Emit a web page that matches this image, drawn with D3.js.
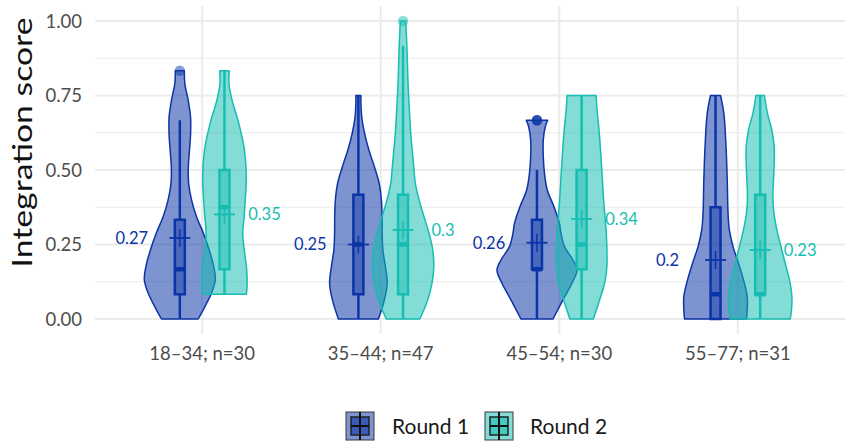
<!DOCTYPE html>
<html><head><meta charset="utf-8">
<script src="https://cdn.jsdelivr.net/npm/d3@7"></script>
<style>body{margin:0;background:#fff} svg{display:block} text{font-family:Lato,"Open Sans",sans-serif}</style>
</head><body><svg id="c" width="855" height="441"></svg>
<script>
const categories = ["18–34; n=30","35–44; n=47","45–54; n=30","55–77; n=31"];
const rounds = ["Round 1","Round 2"];
const yTicks = [0,0.25,0.5,0.75,1];
const yMinor = [0.125,0.375,0.625,0.875];
const colors = ["#0b34a6","#16bdb2"];

// violin density profiles: [score, density]
const densR1 = [
  [[0,1.83],[0.041,2.5],[0.087,3.17],[0.131,3.55],[0.175,3.4],[0.231,2.95],[0.287,2.37],[0.343,1.67],[0.4,1.17],[0.456,0.88],[0.511,0.85],[0.567,0.97],[0.624,1.08],[0.679,1.07],[0.735,0.83],[0.79,0.5],[0.833,0.45]],
  [[0,2.0],[0.064,2.6],[0.12,2.88],[0.176,2.7],[0.232,2.45],[0.288,2.38],[0.343,2.37],[0.4,2.3],[0.455,2.08],[0.511,1.6],[0.567,1.05],[0.623,0.62],[0.679,0.33],[0.731,0.25],[0.75,0.25]],
  [[0,1.6],[0.064,2.6],[0.12,3.5],[0.164,4.0],[0.198,3.6],[0.243,2.75],[0.288,2.4],[0.321,2.25],[0.377,1.7],[0.433,1.03],[0.489,0.75],[0.545,0.63],[0.6,0.63],[0.645,0.83],[0.667,1.07]],
  [[0,3.1],[0.03,3.17],[0.075,3.17],[0.131,2.8],[0.187,2.3],[0.243,1.75],[0.299,1.38],[0.355,1.25],[0.466,1.17],[0.578,1.05],[0.69,0.83],[0.75,0.5]]
];
const densR2 = [
  [[0.083,2.2],[0.12,2.27],[0.175,2.2],[0.231,1.98],[0.287,1.83],[0.343,1.97],[0.4,2.08],[0.456,2.17],[0.511,2.15],[0.567,2.0],[0.624,1.67],[0.679,1.25],[0.735,0.75],[0.791,0.45],[0.833,0.48]],
  [[0,1.67],[0.064,2.47],[0.12,2.9],[0.176,3.08],[0.232,2.97],[0.288,2.6],[0.343,2.1],[0.4,1.6],[0.455,1.23],[0.511,1.07],[0.567,0.92],[0.623,0.77],[0.679,0.67],[0.791,0.5],[0.903,0.4],[1.0,0.27]],
  [[0,1.17],[0.064,1.8],[0.12,2.3],[0.176,2.53],[0.232,2.53],[0.288,2.47],[0.4,2.2],[0.511,2.0],[0.623,1.77],[0.7,1.55],[0.75,1.45]],
  [[0,3.0],[0.03,3.13],[0.075,3.17],[0.131,2.93],[0.187,2.5],[0.243,2.08],[0.299,1.67],[0.355,1.37],[0.41,1.27],[0.466,1.33],[0.522,1.4],[0.578,1.4],[0.634,1.17],[0.69,0.73],[0.75,0.43]]
];
// box stats: [lower whisker, q1, median, q3, upper whisker]
const boxR1 = [[0,0.083,0.167,0.333,0.667],[0,0.083,0.25,0.417,0.75],[0,0.167,0.167,0.333,0.5],[0,0,0.083,0.375,0.75]];
const boxR2 = [[0.083,0.167,0.375,0.5,0.833],[0,0.083,0.25,0.417,0.917],[0,0.167,0.25,0.5,0.75],[0,0.083,0.083,0.417,0.75]];
const outR1 = [[0.833],[],[0.667,0.667,0.667],[]];
const outR2 = [[],[1.0],[],[]];
const meanR1 = [0.272,0.25,0.256,0.198];
const meanR2 = [0.351,0.299,0.336,0.232];

const dens = [densR1, densR2], boxes = [boxR1, boxR2], outs = [outR1, outR2], means = [meanR1, meanR2];

const svg = d3.select("#c");
const pLeft = 95, pRight = 845, pTop = 6, pBottom = 334;

const x = d3.scalePoint().domain(categories).range([pLeft, pRight]).padding(0.6);
const step = x.step();
const dodge = d3.scalePoint().domain(rounds).range([-step*0.125, step*0.125]);
const y = d3.scaleLinear().domain([0,1]).range([319, 21]);
const w = d3.scaleLinear().domain([0,1]).range([0, step*0.056]);

// grid
const g = svg.append("g");
g.selectAll(".ymin").data(yMinor).join("line")
  .attr("x1", pLeft).attr("x2", pRight).attr("y1", d=>y(d)).attr("y2", d=>y(d))
  .attr("stroke", "#ececec").attr("stroke-width", 1);
g.selectAll(".ymaj").data(yTicks).join("line")
  .attr("x1", pLeft).attr("x2", pRight).attr("y1", d=>y(d)).attr("y2", d=>y(d))
  .attr("stroke", "#ebebeb").attr("stroke-width", 2);
g.selectAll(".xmaj").data(categories).join("line")
  .attr("x1", d=>x(d)).attr("x2", d=>x(d)).attr("y1", pTop).attr("y2", pBottom)
  .attr("stroke", "#ebebeb").attr("stroke-width", 2);

// axes labels
svg.append("g").selectAll("text").data(yTicks).join("text")
  .attr("x", 82).attr("y", d=>y(d)).attr("dy","0.36em").attr("text-anchor","end")
  .attr("fill","#4d4d4d").attr("font-size",18.5).text(d3.format(".2f"));
svg.append("g").selectAll("text").data(categories).join("text")
  .attr("x", d=>x(d)).attr("y", 360).attr("text-anchor","middle")
  .attr("fill","#4d4d4d").attr("font-size",18.5).text(d=>d);
svg.append("text").attr("transform","translate(32,142.5) rotate(-90)")
  .attr("text-anchor","middle").attr("fill","#111").attr("font-size",27)
  .attr("textLength",250).attr("lengthAdjust","spacingAndGlyphs").text("Integration score");

const fmt = d3.format(".2~f");

rounds.forEach((r, ri) => {
  const col = colors[ri];
  categories.forEach((c, ci) => {
    const cx = x(c) + dodge(r);
    const prof = dens[ri][ci];
    const area = d3.area().curve(d3.curveCatmullRom.alpha(0.5))
      .y(d=>y(d[0])).x0(d=>cx - w(d[1])).x1(d=>cx + w(d[1]));
    svg.append("path").attr("d", area(prof))
      .attr("fill", col).attr("fill-opacity", 0.53)
      .attr("stroke", col).attr("stroke-width", 1.5).attr("stroke-linejoin","round");
  });
});

rounds.forEach((r, ri) => {
  const col = colors[ri];
  categories.forEach((c, ci) => {
    const cx = x(c) + dodge(r);
    const [lo, q1, md, q3, hi] = boxes[ri][ci];
    const bw = step*0.028;
    const gg = svg.append("g");
    gg.append("line").attr("x1",cx).attr("x2",cx).attr("y1",y(hi)).attr("y2",y(q3))
      .attr("stroke",col).attr("stroke-width",2.5);
    gg.append("line").attr("x1",cx).attr("x2",cx).attr("y1",y(q1)).attr("y2",y(lo))
      .attr("stroke",col).attr("stroke-width",2.5);
    gg.append("rect").attr("x",cx-bw).attr("width",bw*2).attr("y",y(q3)).attr("height",Math.max(0.01,y(q1)-y(q3)))
      .attr("fill",col).attr("fill-opacity",0.45).attr("stroke",col).attr("stroke-width",2.5);
    gg.append("line").attr("x1",cx-bw).attr("x2",cx+bw).attr("y1",y(md)).attr("y2",y(md))
      .attr("stroke",col).attr("stroke-width",4.5);
    gg.selectAll("circle").data(outs[ri][ci]).join("circle")
      .attr("cx",cx).attr("cy",d=>y(d)).attr("r",5.2)
      .attr("fill",col).attr("fill-opacity",0.5);
    const m = means[ri][ci];
    gg.append("line").attr("x1",cx-10.5).attr("x2",cx+10.5).attr("y1",y(m)).attr("y2",y(m))
      .attr("stroke",col).attr("stroke-width",1.8);
    gg.append("line").attr("x1",cx).attr("x2",cx).attr("y1",y(m)-9).attr("y2",y(m)+9)
      .attr("stroke",col).attr("stroke-width",1.5);
    svg.append("text").attr("x", ri===0 ? cx-48 : cx+40).attr("y", y(m)).attr("dy","0.36em")
      .attr("text-anchor","middle").attr("fill",col).attr("font-size",16.5).text(fmt(m));
  });
});

// legend
const lg = svg.append("g");
const keyX = [346, 485], textX = [392, 530];
rounds.forEach((r, ri) => {
  const col = colors[ri];
  const kx = keyX[ri], ky = 412;
  lg.append("rect").attr("x",kx).attr("y",ky).attr("width",28).attr("height",28)
    .attr("fill",col).attr("fill-opacity",0.53).attr("stroke","#333").attr("stroke-opacity",0.8).attr("stroke-width",1.2);
  lg.append("rect").attr("x",kx+5).attr("y",ky+5).attr("width",18).attr("height",18)
    .attr("fill",col).attr("fill-opacity",0.6).attr("stroke","#222").attr("stroke-width",1.5);
  lg.append("line").attr("x1",kx+5).attr("x2",kx+23).attr("y1",ky+14).attr("y2",ky+14).attr("stroke","#111").attr("stroke-width",2);
  lg.append("line").attr("x1",kx+14).attr("x2",kx+14).attr("y1",ky).attr("y2",ky+28).attr("stroke","#111").attr("stroke-width",2);
  lg.append("text").attr("x",textX[ri]).attr("y",433.5).attr("font-size",21).attr("fill","#1a1a1a").text(r);
});
</script></body></html>
